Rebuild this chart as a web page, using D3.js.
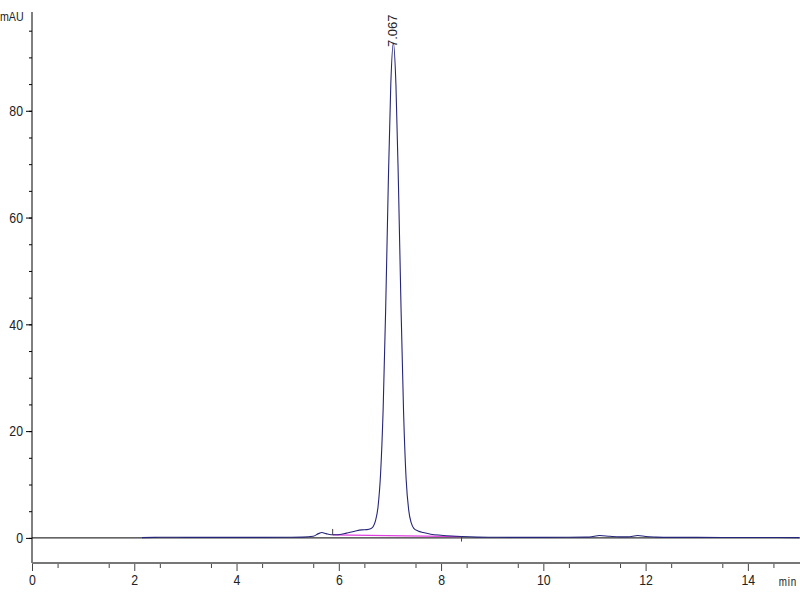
<!DOCTYPE html>
<html>
<head>
<meta charset="utf-8">
<script src="https://cdn.jsdelivr.net/npm/d3@7"></script>
<style>
  body { margin: 0; background: #fff; }
  svg text { font-family: "Liberation Sans", Arial, sans-serif; fill: #222; }
</style>
</head>
<body>
<svg id="chart" width="800" height="600"></svg>
<script>
// chromatogram values
const xTicks = [0, 2, 4, 6, 8, 10, 12, 14];
const yTicks = [0, 20, 40, 60, 80];
const traceTime = [2.15, 2.4, 2.7, 3.0, 3.5, 4.0, 4.5, 5.0, 5.3, 5.5, 5.6, 5.67, 5.75, 5.85, 5.95,
    6.05, 6.15, 6.25, 6.35, 6.45, 6.55, 6.62, 6.67, 6.717, 6.767, 6.817, 6.867, 6.917, 6.967, 7.017,
    7.067, 7.117, 7.167, 7.217, 7.267, 7.317, 7.367, 7.417, 7.467, 7.55, 7.65, 7.8, 8.0, 8.2, 8.4,
    8.7, 9.0, 9.5, 10.0, 10.5, 10.9, 11.1, 11.3, 11.5, 11.65, 11.85, 12.0, 12.2, 12.5, 13.0, 13.5, 14.0, 15.0];
const traceSignal = [0.05, 0.1, 0.12, 0.1, 0.1, 0.1, 0.1, 0.12, 0.15, 0.3, 0.8, 1.0, 0.8, 0.6, 0.6,
    0.7, 0.9, 1.1, 1.35, 1.5, 1.55, 1.7, 2.1, 3.2, 5.8, 12, 24, 43, 66, 85,
    92.7, 85, 66, 43, 23.5, 11, 5.2, 2.8, 1.8, 1.3, 1.0, 0.7, 0.5, 0.35, 0.25,
    0.15, 0.12, 0.1, 0.1, 0.12, 0.15, 0.45, 0.3, 0.2, 0.2, 0.45, 0.25, 0.15, 0.1, 0.1, 0.08, 0.08, 0.05];
const baselineTime = [5.88, 8.4];
const baselineSignal = [0.55, 0.25];
const peakTime = 7.067;
const peakHeight = 92.7;
const peakLabel = "7.067";

const svg = d3.select('#chart');

const x = d3.scaleLinear().domain([0, 15]).range([32, 799]);
const y = d3.scaleLinear().domain([-4.7, 98.5]).range([563, 12]);

// narrow look of the instrument font
function squeeze(sel) {
    sel.each(function() {
        const t = d3.select(this);
        t.attr('transform', 'scale(0.82,1)')
         .attr('x', (+t.attr('x') || 0) / 0.82);
    });
}

// zero line
svg.append('line')
    .attr('x1', x(0)).attr('x2', 800)
    .attr('y1', y(0)).attr('y2', y(0))
    .attr('stroke', '#000').attr('stroke-width', 1);

// y axis
const yAxis = svg.append('g').attr('transform', `translate(${x(0)},0)`);
yAxis.call(d3.axisLeft(y).tickValues(d3.range(-0, 96, 5)).tickSize(3).tickFormat(''))
    .call(g => g.select('.domain').remove());
yAxis.append('g')
    .call(d3.axisLeft(y).tickValues(yTicks).tickSize(6).tickPadding(3).tickFormat(d3.format('d')))
    .call(g => g.select('.domain').remove())
    .selectAll('text').style('font-size', '15px').attr('fill', '#222').call(squeeze);
yAxis.append('line')
    .attr('x1', 0).attr('x2', 0)
    .attr('y1', 12).attr('y2', 563)
    .attr('stroke', '#000');
yAxis.selectAll('.tick line').attr('stroke', '#000');

// x axis
const xAxis = svg.append('g').attr('transform', `translate(0,${y(-4.7)})`);
xAxis.call(d3.axisBottom(x).tickValues(d3.range(0.5, 15, 1)).tickSize(5).tickFormat(''))
    .call(g => g.select('.domain').remove());
xAxis.append('g')
    .call(d3.axisBottom(x).tickValues(xTicks).tickSize(8).tickPadding(3).tickFormat(d3.format('d')))
    .call(g => g.select('.domain').remove())
    .selectAll('text').style('font-size', '15px').attr('fill', '#222').call(squeeze);
xAxis.append('line')
    .attr('x1', x(0)).attr('x2', 800)
    .attr('y1', 0).attr('y2', 0)
    .attr('stroke', '#777').attr('stroke-width', 2);
xAxis.selectAll('.tick line').attr('stroke', '#444');

// units
svg.append('text')
    .attr('x', 0).attr('y', 21)
    .style('font-size', '13px')
    .text('mAU')
    .call(squeeze);
svg.append('text')
    .attr('x', 797).attr('y', 586)
    .attr('text-anchor', 'end')
    .style('font-size', '12px')
    .style('letter-spacing', '1px')
    .text('min')
    .call(squeeze);

// baseline of the integrated peak
svg.append('line')
    .attr('x1', x(baselineTime[0])).attr('x2', x(baselineTime[1]))
    .attr('y1', y(baselineSignal[0])).attr('y2', y(baselineSignal[1]))
    .attr('stroke', '#e040e0').attr('stroke-width', 1.2);

// trace
const trace = traceTime.map((t, i) => [t, traceSignal[i]]);
const line = d3.line()
    .x(d => x(d[0]))
    .y(d => y(d[1]))
    .curve(d3.curveMonotoneX);
svg.append('path')
    .datum(trace)
    .attr('fill', 'none')
    .attr('stroke', '#25257a')
    .attr('stroke-width', 1.1)
    .attr('d', line);

// integration marks
svg.selectAll('.imark')
    .data(baselineTime)
    .join('line')
    .attr('class', 'imark')
    .attr('x1', d => x(d)).attr('x2', d => x(d))
    .attr('y1', (d, i) => y(baselineSignal[i]) + (i === 0 ? -6 : 0))
    .attr('y2', (d, i) => y(baselineSignal[i]) + (i === 0 ? 0 : 5))
    .attr('stroke', '#444').attr('stroke-width', 1);

// peak label
svg.append('text')
    .attr('transform', `translate(${x(peakTime) + 4},${y(peakHeight) + 4}) rotate(-90)`)
    .style('font-size', '13px')
    .text(peakLabel);
</script>
</body>
</html>
